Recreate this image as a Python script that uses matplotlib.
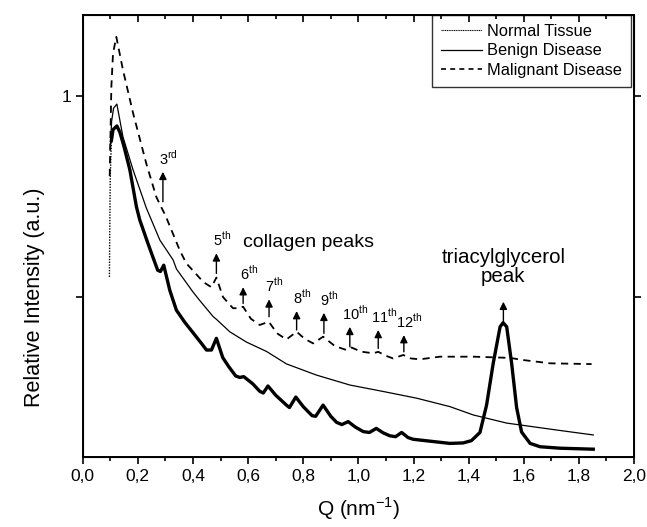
import numpy as np
import matplotlib
matplotlib.use("Agg")
import matplotlib.pyplot as plt
from matplotlib.lines import Line2D

plt.rcParams['font.family'] = ['Liberation Sans', 'DejaVu Sans']
plt.rcParams['mathtext.fontset'] = 'custom'
plt.rcParams['mathtext.rm'] = 'Liberation Sans'

# Normal tissue (dense dotted curve, looks thick)
normal_q = [0.097, 0.098, 0.100, 0.104, 0.110, 0.124, 0.135, 0.150, 0.171, 0.195,
            0.207, 0.236, 0.249, 0.272, 0.282, 0.294, 0.316, 0.340, 0.370, 0.402,
            0.430, 0.449, 0.467, 0.485, 0.508, 0.530, 0.555, 0.570, 0.584, 0.617,
            0.642, 0.655, 0.672, 0.700, 0.739, 0.750, 0.773, 0.800, 0.832, 0.845,
            0.872, 0.900, 0.921, 0.940, 0.963, 0.990, 1.018, 1.040, 1.065, 1.090,
            1.114, 1.135, 1.157, 1.180, 1.199, 1.272, 1.332, 1.380, 1.410, 1.441,
            1.465, 1.489, 1.514, 1.525, 1.538, 1.556, 1.574, 1.592, 1.623, 1.659,
            1.731, 1.852]
normal_i = [0.126, 0.20, 0.395, 0.60, 0.68, 0.71, 0.66, 0.56, 0.43, 0.281,
            0.242, 0.186, 0.166, 0.136, 0.134, 0.144, 0.108, 0.086, 0.075, 0.066,
            0.059, 0.0545, 0.0545, 0.0623, 0.050, 0.045, 0.0405, 0.0398, 0.0402, 0.037,
            0.034, 0.0333, 0.0361, 0.0325, 0.029, 0.0282, 0.0318, 0.0285, 0.0257, 0.0255,
            0.029, 0.0255, 0.0238, 0.0232, 0.024, 0.0225, 0.0214, 0.0212, 0.0222, 0.0211,
            0.0204, 0.0202, 0.0212, 0.0200, 0.0196, 0.0191, 0.0187, 0.0188, 0.0193, 0.0212,
            0.029, 0.0467, 0.0711, 0.0745, 0.0711, 0.0467, 0.0282, 0.0213, 0.0187, 0.0180,
            0.0177, 0.0175]

# Benign disease
benign_q = [0.100, 0.105, 0.112, 0.124, 0.146, 0.183, 0.231, 0.280, 0.328, 0.340,
            0.400, 0.425, 0.473, 0.485, 0.534, 0.594, 0.667, 0.739, 0.848, 0.969,
            1.090, 1.211, 1.332, 1.417, 1.538, 1.719, 1.852]
benign_i = [0.55, 0.75, 0.87, 0.912, 0.627, 0.428, 0.277, 0.192, 0.153, 0.138,
            0.106, 0.096, 0.080, 0.0775, 0.0671, 0.0597, 0.0536, 0.0465, 0.0409, 0.0365,
            0.0339, 0.0314, 0.0285, 0.0259, 0.0236, 0.0218, 0.0206]

# Malignant disease
malig_q = [0.098, 0.104, 0.110, 0.122, 0.146, 0.183, 0.231, 0.267, 0.285, 0.300,
           0.352, 0.376, 0.401, 0.437, 0.449, 0.467, 0.485, 0.509, 0.545, 0.563,
           0.582, 0.610, 0.642, 0.675, 0.705, 0.739, 0.776, 0.805, 0.836, 0.872,
           0.915, 0.957, 0.975, 1.010, 1.054, 1.072, 1.100, 1.126, 1.163, 1.190,
           1.223, 1.296, 1.417, 1.550, 1.598, 1.695, 1.846]
malig_i = [0.40, 1.11, 1.63, 1.97, 1.35, 0.82, 0.46, 0.315, 0.28, 0.255,
           0.171, 0.147, 0.135, 0.119, 0.116, 0.112, 0.125, 0.100, 0.088, 0.088,
           0.0895, 0.078, 0.0726, 0.0754, 0.066, 0.0615, 0.0672, 0.062, 0.0588, 0.0635,
           0.057, 0.0545, 0.0561, 0.0535, 0.0525, 0.0534, 0.051, 0.0495, 0.0515, 0.0495,
           0.049, 0.0505, 0.0505, 0.0498, 0.0486, 0.0468, 0.0464]

# collagen peak arrows (order label, Q, arrow tail, arrow head)
peak_labels = ['3', '5', '6', '7', '8', '9', '10', '11', '12']
peak_sup = ['rd', 'th', 'th', 'th', 'th', 'th', 'th', 'th', 'th']
peak_q = [0.291, 0.485, 0.582, 0.676, 0.776, 0.875, 0.969, 1.072, 1.165]
peak_tail = [0.298, 0.131, 0.093, 0.0798, 0.0686, 0.066, 0.0566, 0.0555, 0.0534]
peak_head = [0.42, 0.165, 0.112, 0.0974, 0.0852, 0.0835, 0.0711, 0.0686, 0.0647]

tag_q, tag_tail, tag_head = 1.526, 0.0754, 0.0948

x_ticks = [0.0, 0.2, 0.4, 0.6, 0.8, 1.0, 1.2, 1.4, 1.6, 1.8, 2.0]
x_ticklabels = ['0,0', '0,2', '0,4', '0,6', '0,8', '1,0', '1,2', '1,4', '1,6', '1,8', '2,0']

fig = plt.figure(figsize=(6.47, 5.27), dpi=100)
ax = fig.add_axes([0.1278, 0.1328, 0.8522, 0.8387])

# vertical start of normal tissue is thin dotted, rest dense (thick)
ax.plot(normal_q[:4], normal_i[:4], color='k', lw=1.0, ls=(0, (1, 1)))
ax.plot(normal_q[3:], normal_i[3:], color='k', lw=2.4)
ax.plot(benign_q, benign_i, color='k', lw=0.9)
ax.plot(malig_q, malig_i, color='k', lw=1.3, ls=(0, (4, 3)))

ax.set_yscale('log')
ax.set_xlim(0, 2.0)
ax.set_ylim(0.016, 2.53)

ax.set_yticks([0.1, 1])
ax.set_yticklabels(['', '1'])
ax.yaxis.set_minor_locator(matplotlib.ticker.NullLocator())
ax.set_xticks(x_ticks)
ax.set_xticklabels(x_ticklabels)
ax.set_xticks(np.arange(0.1, 2.0, 0.2), minor=True)

ax.tick_params(axis='both', which='major', direction='out', length=5, width=1.2,
               labelsize=12.5, top=False)
ax.tick_params(axis='x', which='minor', direction='out', length=3, width=1.2, top=False)
ax.tick_params(axis='y', which='major', right=True, labelright=False)
for s in ax.spines.values():
    s.set_linewidth(1.4)

# top inward ticks
axt = ax.twiny()
axt.set_xlim(0, 2.0)
axt.set_xticks(x_ticks)
axt.set_xticks(np.arange(0.1, 2.0, 0.2), minor=True)
axt.tick_params(axis='x', which='major', direction='in', length=5, width=1.2, labeltop=False)
axt.tick_params(axis='x', which='minor', direction='in', length=3, width=1.2)

ax.set_xlabel('Q (nm$^{-1}$)', fontsize=15, labelpad=8)
ax.set_ylabel('Relative Intensity (a.u.)', fontsize=15.5)
ax.yaxis.set_label_coords(-0.068, 0.362)

for lab, sup, q, t, h in zip(peak_labels, peak_sup, peak_q, peak_tail, peak_head):
    ax.annotate('', xy=(q, h), xytext=(q, t),
                arrowprops=dict(arrowstyle='-|>', color='k', lw=1.0, mutation_scale=11,
                                shrinkA=0, shrinkB=0))
    ax.annotate(lab + r'$^{\mathrm{' + sup + '}}$', xy=(q, h), xytext=(4, 3),
                textcoords='offset points', ha='center', va='bottom', fontsize=10.5)

ax.annotate('', xy=(tag_q, tag_head), xytext=(tag_q, tag_tail),
            arrowprops=dict(arrowstyle='-|>', color='k', lw=1.0, mutation_scale=11,
                            shrinkA=0, shrinkB=0))
ax.text(0.58, 0.186, 'collagen peaks', fontsize=14, ha='left', va='center')
ax.text(1.526, 0.113, 'triacylglycerol\npeak', fontsize=14.8, ha='center', va='bottom',
        linespacing=1.0)

handles = [Line2D([], [], color='k', lw=0.8, ls=(0, (1, 0.6))),
           Line2D([], [], color='k', lw=0.9),
           Line2D([], [], color='k', lw=1.2, ls=(0, (3, 2.5)))]
leg = ax.legend(handles, ['Normal Tissue', 'Benign Disease', 'Malignant Disease'],
                loc='upper right', bbox_to_anchor=(0.9945, 1.0), borderaxespad=0,
                fontsize=11.8, frameon=True, fancybox=False, edgecolor='k',
                handlelength=2.5, handletextpad=0.3, labelspacing=0.26,
                borderpad=0.55)
leg.get_frame().set_linewidth(1.0)

fig.savefig('out.png', dpi=100)
